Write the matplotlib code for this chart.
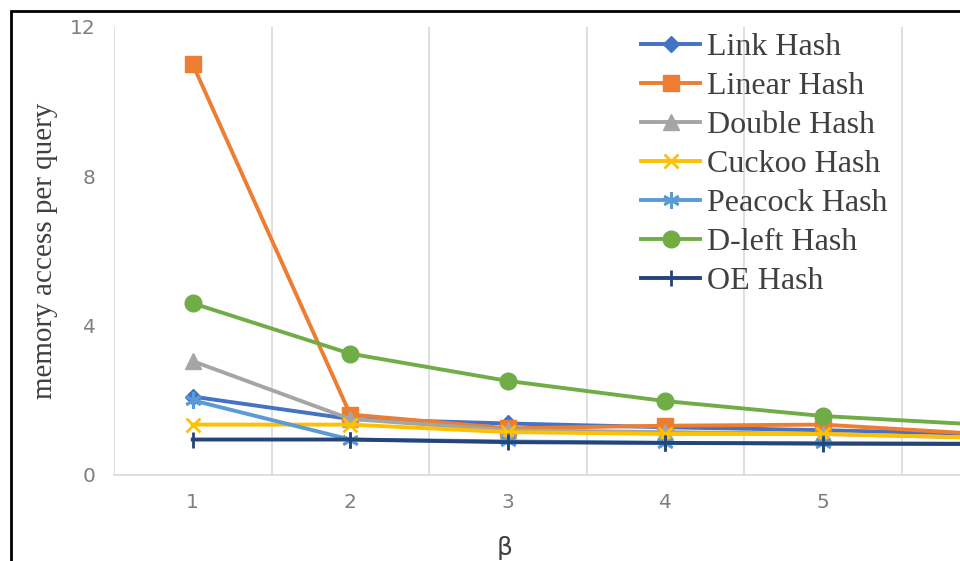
import matplotlib
matplotlib.use('Agg')
import matplotlib.pyplot as plt
from matplotlib.patches import Rectangle

beta = [1, 2, 3, 4, 5, 6]
tick_beta = [1, 2, 3, 4, 5]

link_hash = [2.1, 1.5, 1.38, 1.28, 1.2, 1.1]
linear_hash = [11.0, 1.62, 1.25, 1.32, 1.35, 1.1]
double_hash = [3.05, 1.5, 1.2, 1.15, 1.1, 1.0]
cuckoo_hash = [1.35, 1.35, 1.15, 1.1, 1.1, 1.0]
peacock_hash = [2.0, 0.95, 0.9, 0.86, 0.85, 0.84]
dleft_hash = [4.6, 3.25, 2.52, 1.98, 1.58, 1.35]
oe_hash = [0.95, 0.95, 0.88, 0.86, 0.84, 0.83]

series = [
    ('Link Hash', link_hash, '#4472C4', 'D', 8),
    ('Linear Hash', linear_hash, '#ED7D31', 's', 11),
    ('Double Hash', double_hash, '#A5A5A5', '^', 11),
    ('Cuckoo Hash', cuckoo_hash, '#FFC000', 'x', 10),
    ('Peacock Hash', peacock_hash, '#5B9BD5', (6, 2, 0), 12),
    ('D-left Hash', dleft_hash, '#70AD47', 'o', 12),
    ('OE Hash', oe_hash, '#264478', '|', 12),
]

fig = plt.figure(figsize=(9.6, 5.61), dpi=100)
ax = fig.add_axes([114 / 960, 86 / 561, 945 / 960, 448 / 561])

for name, vals, col, mk, ms in series:
    ax.plot(beta, vals, color=col, lw=2.8, marker=mk, markersize=ms,
            markeredgewidth=2 if mk in ('x', '|', (6, 2, 0)) else 1,
            markeredgecolor=col, label=name, zorder=3)

ax.set_xlim(0.5, 6.5)
ax.set_ylim(0, 12)
ax.set_yticks([0, 4, 8, 12])
ax.set_xticks(tick_beta)
ax.set_xticks([b + 0.5 for b in [0] + beta], minor=True)
ax.grid(True, which='minor', axis='x', color='#D9D9D9', lw=1.2)
ax.tick_params(which='both', length=0)
ax.tick_params(axis='both', labelsize=14.5, colors='#7F7F7F', pad=13)
for s in ['top', 'right', 'left']:
    ax.spines[s].set_visible(False)
ax.spines['bottom'].set_color('#D9D9D9')
ax.spines['bottom'].set_linewidth(1.2)

ax.set_ylabel('memory access per query', family='Liberation Serif', fontsize=21,
              color='#404040', labelpad=9)
fig.text(505 / 960, 1 - 548 / 561, 'β', fontsize=18, color='#404040',
         ha='center', va='center')

ax.legend(loc='upper left', bbox_to_anchor=(641 / 960, 1 - 33 / 561),
          bbox_transform=fig.transFigure, frameon=False,
          prop={'family': 'Liberation Serif', 'size': 23},
          handlelength=1.85, handletextpad=0.22, labelspacing=0.3,
          borderaxespad=0, borderpad=0, labelcolor='#404040')

fig.patches.append(Rectangle((11 / 960, -0.1), 1.2, 1 - 11 / 561 + 0.1,
                             transform=fig.transFigure, fill=False,
                             edgecolor='black', lw=2))

fig.savefig('out.png', dpi=100)
